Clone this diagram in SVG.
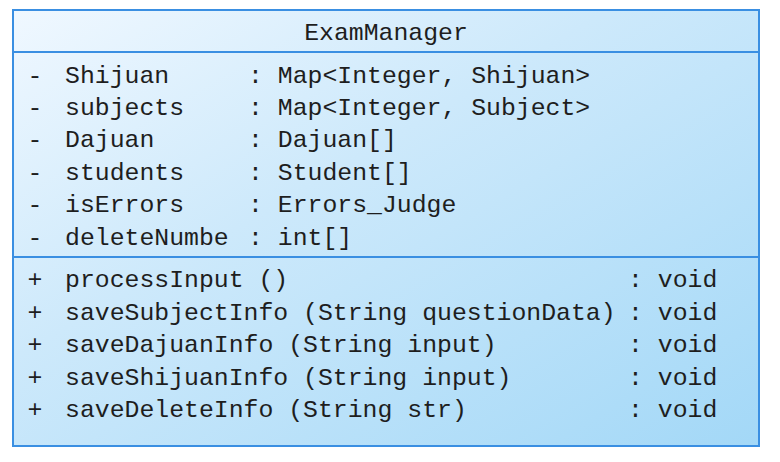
<svg xmlns="http://www.w3.org/2000/svg" width="780" height="462" viewBox="0 0 780 462">
<defs>
<linearGradient id="bg" x1="0" y1="0" x2="1" y2="1">
<stop offset="0" stop-color="#f0f8ff"/>
<stop offset="0.4" stop-color="#cde9fb"/>
<stop offset="1" stop-color="#a3d8f7"/>
</linearGradient>
<style>
text{font-family:"Liberation Mono","DejaVu Sans Mono",monospace;font-size:24.8px;fill:#1e1e1e;}
.c{text-anchor:middle;}
.ln{stroke:#3a8fe2;stroke-width:2;fill:none;}
</style>
</defs>
<g id="ExamManager">
<rect x="13" y="10" width="746" height="436" fill="url(#bg)" stroke="#3a8fe2" stroke-width="2"/>
<line x1="13" y1="52" x2="759" y2="52" class="ln"/>
<line x1="13" y1="257" x2="759" y2="257" class="ln"/>
<text x="386" y="40" class="c">ExamManager</text>
<g id="attributes">
<text x="35" y="83" class="c">-</text><text x="65" y="83">Shijuan</text><text x="248" y="83">: Map&lt;Integer, Shijuan&gt;</text>
<text x="35" y="115" class="c">-</text><text x="65" y="115">subjects</text><text x="248" y="115">: Map&lt;Integer, Subject&gt;</text>
<text x="35" y="147" class="c">-</text><text x="65" y="147">Dajuan</text><text x="248" y="147">: Dajuan[]</text>
<text x="35" y="180" class="c">-</text><text x="65" y="180">students</text><text x="248" y="180">: Student[]</text>
<text x="35" y="212" class="c">-</text><text x="65" y="212">isErrors</text><text x="248" y="212">: Errors_Judge</text>
<text x="35" y="245" class="c">-</text><text x="65" y="245">deleteNumbe</text><text x="248" y="245">: int[]</text>
</g>
<g id="methods">
<text x="35" y="287" class="c">+</text><text x="65" y="287">processInput ()</text><text x="628" y="287">: void</text>
<text x="35" y="320" class="c">+</text><text x="65" y="320">saveSubjectInfo (String questionData)</text><text x="628" y="320">: void</text>
<text x="35" y="352" class="c">+</text><text x="65" y="352">saveDajuanInfo (String input)</text><text x="628" y="352">: void</text>
<text x="35" y="385" class="c">+</text><text x="65" y="385">saveShijuanInfo (String input)</text><text x="628" y="385">: void</text>
<text x="35" y="417" class="c">+</text><text x="65" y="417">saveDeleteInfo (String str)</text><text x="628" y="417">: void</text>
</g>
</g>
<g id="connectors"/>
</svg>
